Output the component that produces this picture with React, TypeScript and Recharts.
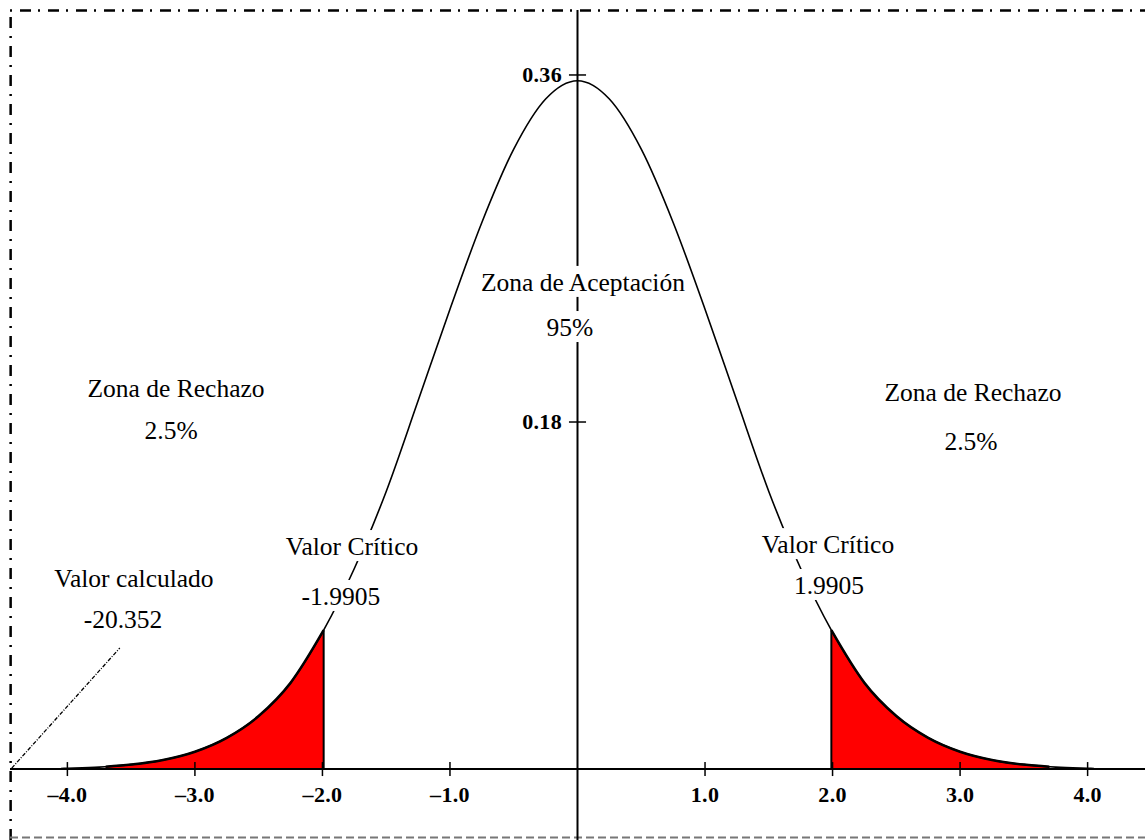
import React from 'react';
import {
  ComposedChart,
  Line,
  Area,
  XAxis,
  YAxis,
  ReferenceLine,
  ReferenceDot,
} from 'recharts';

// ---- data ----
const xValues = [
  -4.05, -4.0, -3.75, -3.7, -3.5, -3.25, -3.0, -2.75, -2.5, -2.25, -1.9905,
  -1.75, -1.5, -1.25, -1.0, -0.75, -0.5, -0.25, 0, 0.25, 0.5, 0.75, 1.0,
  1.25, 1.5, 1.75, 1.9905, 2.25, 2.5, 2.75, 3.0, 3.25, 3.5, 3.7, 3.75, 4.0,
  4.05,
];
const densityValues = [
  0.0003, 0.0004, 0.001, 0.0012, 0.0023, 0.0047, 0.009, 0.0162, 0.0275,
  0.0447, 0.072, 0.104, 0.144, 0.191, 0.2385, 0.2835, 0.3215, 0.3475, 0.357,
  0.3475, 0.3215, 0.2835, 0.2385, 0.191, 0.144, 0.104, 0.072, 0.0447, 0.0275,
  0.0162, 0.009, 0.0047, 0.0023, 0.0012, 0.001, 0.0004, 0.0003,
];
const criticalValues = [-1.9905, 1.9905];
const criticalDensity = 0.072;
const rejectStart = -3.7;
const rejectEnd = 3.7;

const xTicks = [-4, -3, -2, -1, 1, 2, 3, 4];
const xTickLabels = ['–4.0', '–3.0', '–2.0', '–1.0', '1.0', '2.0', '3.0', '4.0'];
const yTicks = [0.18, 0.36];
const yTickLabels = ['0.18', '0.36'];

const calcPointer = [
  { x: -4.436, y: 0.0005 },
  { x: -3.589, y: 0.0628 },
];

// text annotations (anchor = baseline centre, in chart coordinates)
const annotations = [
  { text: 'Zona de Rechazo', x: -3.148, y: 0.193 },
  { text: '2.5%', x: -3.187, y: 0.1712 },
  { text: 'Zona de Aceptación', x: 0.043, y: 0.248 },
  { text: '95%', x: -0.059, y: 0.2246 },
  { text: 'Zona de Rechazo', x: 3.101, y: 0.1909 },
  { text: '2.5%', x: 3.086, y: 0.1655 },
  { text: 'Valor Crítico', x: -1.768, y: 0.111 },
  { text: '-1.9905', x: -1.855, y: 0.0851 },
  { text: 'Valor Crítico', x: 1.964, y: 0.112 },
  { text: '1.9905', x: 1.972, y: 0.0908 },
  { text: 'Valor calculado', x: -3.478, y: 0.0944 },
  { text: '-20.352', x: -3.564, y: 0.0731 },
];

const rows = xValues.map((x, i) => ({
  x,
  density: densityValues[i],
  tail: x <= -1.9905 + 1e-9 && x >= rejectStart - 1e-9
    ? densityValues[i]
    : x >= 1.9905 - 1e-9 && x <= rejectEnd + 1e-9
    ? densityValues[i]
    : null,
}));

// ---- layout / style ----
const X_DOMAIN: [number, number] = [-4.45, 4.45];
const Y_DOMAIN: [number, number] = [-0.0368, 0.3937];
const FONT = '"Liberation Serif", "Times New Roman", serif';
const ANN_SIZE = 25.5;
const TICK_SIZE = 22;
const X_TICK_HALF = 0.00363;
const Y_TICK_HALF = 0.067;

let ctx: CanvasRenderingContext2D | null = null;
function measure(text: string, font: string): number {
  if (!ctx) {
    const c = document.createElement('canvas');
    ctx = c.getContext('2d');
  }
  if (!ctx) return text.length * 12;
  ctx.font = font;
  return ctx.measureText(text).width;
}

function BoxedText(props: any) {
  const { viewBox, text } = props;
  if (!viewBox) return null;
  const w = measure(text, `${ANN_SIZE}px "Liberation Serif"`);
  const cx = viewBox.x + (viewBox.width || 0) / 2;
  const by = viewBox.y + (viewBox.height || 0) / 2;
  return (
    <g>
      <rect
        x={cx - w / 2 - 2}
        y={by - 25}
        width={w + 4}
        height={31}
        fill="#ffffff"
      />
      <text
        x={cx}
        y={by}
        textAnchor="middle"
        fontFamily={FONT}
        fontSize={ANN_SIZE}
        fill="#000"
      >
        {text}
      </text>
    </g>
  );
}

function XTickLabel(props: any) {
  const { viewBox, text } = props;
  if (!viewBox) return null;
  return (
    <text
      x={viewBox.x}
      y={viewBox.y + viewBox.height + 26}
      textAnchor="middle"
      fontFamily={FONT}
      fontSize={TICK_SIZE}
      fontWeight="bold"
      letterSpacing={0.3}
      fill="#000"
    >
      {text}
    </text>
  );
}

function YTickLabel(props: any) {
  const { viewBox, text } = props;
  if (!viewBox) return null;
  return (
    <text
      x={viewBox.x - 7}
      y={viewBox.y + 7}
      textAnchor="end"
      fontFamily={FONT}
      fontSize={TICK_SIZE}
      fontWeight="bold"
      letterSpacing={0.3}
      fill="#000"
    >
      {text}
    </text>
  );
}

export default function App() {
  return (
    <div style={{ position: 'absolute', left: 0, top: 0, background: '#fff' }}>
      <ComposedChart
        width={1145}
        height={840}
        data={rows}
        margin={{ top: 10, right: 0, bottom: 0, left: 10 }}
      >
        <XAxis
          type="number"
          dataKey="x"
          domain={X_DOMAIN}
          allowDataOverflow
          hide
        />
        <YAxis type="number" domain={Y_DOMAIN} allowDataOverflow hide />

        {/* frame */}
        <ReferenceLine
          y={0.3935}
          stroke="#000"
          strokeWidth={2.5}
          strokeDasharray="2 8 11 7"
        />
        <ReferenceLine
          x={-4.445}
          stroke="#000"
          strokeWidth={2.5}
          strokeDasharray="11 8 2 8"
        />
        <ReferenceLine
          y={-0.0355}
          stroke="#777"
          strokeWidth={2}
          strokeDasharray="8 4"
        />

        <Area
          dataKey="tail"
          type="monotone"
          baseValue={0}
          fill="#ff0000"
          fillOpacity={1}
          stroke="#000"
          strokeWidth={2.5}
          connectNulls={false}
          isAnimationActive={false}
          dot={false}
          activeDot={false}
        />
        <Line
          dataKey="density"
          type="monotone"
          stroke="#000"
          strokeWidth={1.6}
          dot={false}
          activeDot={false}
          isAnimationActive={false}
        />

        {/* critical verticals */}
        {criticalValues.map((c) => (
          <ReferenceLine
            key={'c' + c}
            segment={[
              { x: c, y: 0 },
              { x: c, y: criticalDensity },
            ]}
            stroke="#000"
            strokeWidth={2}
          />
        ))}

        {/* axes */}
        <ReferenceLine y={0} stroke="#000" strokeWidth={2} />
        <ReferenceLine x={0} stroke="#000" strokeWidth={2} />

        {xTicks.map((t, i) => (
          <ReferenceLine
            key={'xt' + t}
            segment={[
              { x: t, y: -X_TICK_HALF },
              { x: t, y: X_TICK_HALF },
            ]}
            stroke="#000"
            strokeWidth={1.5}
            label={(p: any) => <XTickLabel {...p} text={xTickLabels[i]} />}
          />
        ))}
        {yTicks.map((t, i) => (
          <ReferenceLine
            key={'yt' + t}
            segment={[
              { x: -Y_TICK_HALF, y: t },
              { x: Y_TICK_HALF, y: t },
            ]}
            stroke="#000"
            strokeWidth={1.5}
            label={(p: any) => <YTickLabel {...p} text={yTickLabels[i]} />}
          />
        ))}

        {/* pointer for calculated value */}
        <ReferenceLine
          segment={calcPointer}
          stroke="#000"
          strokeWidth={1.3}
          strokeDasharray="4 1.5 1 1.5"
        />

        {annotations.map((a, i) => (
          <ReferenceDot
            key={'a' + i}
            x={a.x}
            y={a.y}
            r={0}
            fill="none"
            stroke="none"
            label={(p: any) => <BoxedText {...p} text={a.text} />}
          />
        ))}
      </ComposedChart>
    </div>
  );
}
